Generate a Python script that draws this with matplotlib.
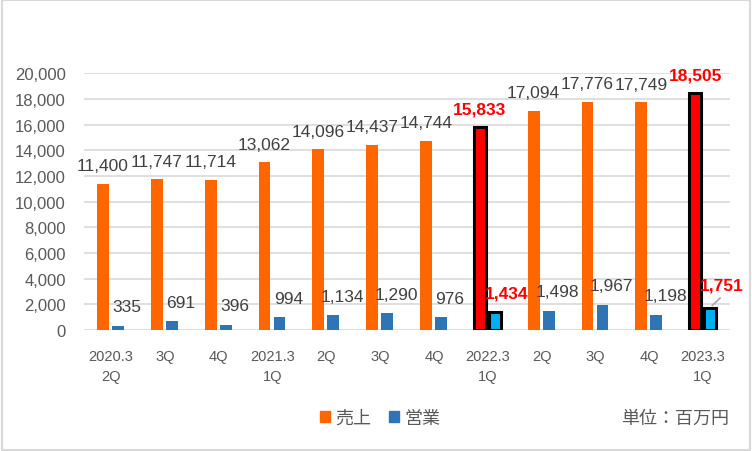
import matplotlib.pyplot as plt
from matplotlib.patches import Patch
import numpy as np

plt.rcParams['font.family'] = ['Liberation Sans', 'Noto Sans CJK JP', 'DejaVu Sans']

labels = ['2020.3\n2Q', '3Q', '4Q', '2021.3\n1Q', '2Q', '3Q', '4Q',
          '2022.3\n1Q', '2Q', '3Q', '4Q', '2023.3\n1Q']
sales = [11400, 11747, 11714, 13062, 14096, 14437, 14744, 15833, 17094, 17776, 17749, 18505]
profit = [335, 691, 396, 994, 1134, 1290, 976, 1434, 1498, 1967, 1198, 1751]
highlight = [7, 11]

fig = plt.figure(figsize=(7.52, 4.52), dpi=100)
ax = fig.add_axes([84 / 752, 1 - 331 / 452, 646 / 752, 256.6 / 452])

x = np.arange(len(labels))
w = 0.22
grey = '#595959'
dark = '#404040'
cjk = ['Noto Sans CJK JP', 'DejaVu Sans']

for i in x:
    if i in highlight:
        ax.bar(i - 0.147, sales[i], w, color='red', edgecolor='black', linewidth=2.2, zorder=3)
        ax.bar(i + 0.132, profit[i], w, color='#00B0F0', edgecolor='black', linewidth=2.2, zorder=3)
    else:
        ax.bar(i - 0.147, sales[i], w, color='#FF6600', zorder=3)
        ax.bar(i + 0.132, profit[i], w, color='#2E75B6', zorder=3)

for i in x:
    if i in highlight:
        ax.annotate(f'{sales[i]:,}', (i - 0.147, sales[i]), xytext=(0, 10), textcoords='offset pixels',
                    ha='center', va='bottom', color='red', fontsize=12.5, fontweight='bold')
        if i == 11:
            ax.annotate(f'{profit[i]:,}', (i + 0.132, profit[i]), xytext=(12, 15),
                        textcoords='offset pixels', ha='center', va='bottom',
                        color='red', fontsize=12.5, fontweight='bold')
            ax.annotate('', (i + 0.132, profit[i]), xytext=(i + 0.132 + 12 / 53.8, profit[i] + 900),
                        arrowprops=dict(arrowstyle='-', color='#A6A6A6', lw=1.2))
        else:
            ax.annotate(f'{profit[i]:,}', (i + 0.132, profit[i]), xytext=(12, 11),
                        textcoords='offset pixels', ha='center', va='bottom',
                        color='red', fontsize=12.5, fontweight='bold')
    else:
        ax.annotate(f'{sales[i]:,}', (i - 0.147, sales[i]), xytext=(0, 10.5), textcoords='offset pixels',
                    ha='center', va='bottom', color=dark, fontsize=12.5)
        ax.annotate(f'{profit[i]:,}', (i + 0.132, profit[i]), xytext=(9, 11.5), textcoords='offset pixels',
                    ha='center', va='bottom', color=dark, fontsize=12.5)

ax.set_xlim(-0.5, len(labels) - 0.5)
ax.set_ylim(0, 20000)
ax.set_yticks(np.arange(0, 20001, 2000))
ax.set_yticklabels([f'{v:,}' for v in range(0, 20001, 2000)], color=grey, fontsize=12)
ax.set_xticks(x)
ax.set_xticklabels(labels, color=grey, fontsize=10.5, linespacing=1.5, va='top')
ax.tick_params(axis='y', length=0, pad=13)
ax.tick_params(axis='x', length=0, pad=14)
ax.grid(axis='y', color='#D9D9D9', linewidth=1.2, zorder=0)
for s in ax.spines.values():
    s.set_visible(False)

# legend
handles = [Patch(color='#FF6600', label='売上'), Patch(color='#2E75B6', label='営業')]
fig.legend(handles=handles, loc='center', bbox_to_anchor=(380 / 752, 1 - 419 / 452), ncol=2,
           frameon=False, prop={'family': cjk, 'size': 13}, handlelength=0.55, handleheight=0.55,
           handletextpad=0.3, columnspacing=1.0, labelcolor=grey)
fig.text(729 / 752, 1 - 419 / 452, '単位：百万円', ha='right', va='center', color=grey,
         fontsize=13, family=cjk)

# outer border
fig.patches.append(plt.Rectangle((0.002, 0.002), 0.996, 0.996, transform=fig.transFigure,
                                 fill=False, edgecolor='#D9D9D9', linewidth=1.5))

fig.savefig('out.png', dpi=100)
